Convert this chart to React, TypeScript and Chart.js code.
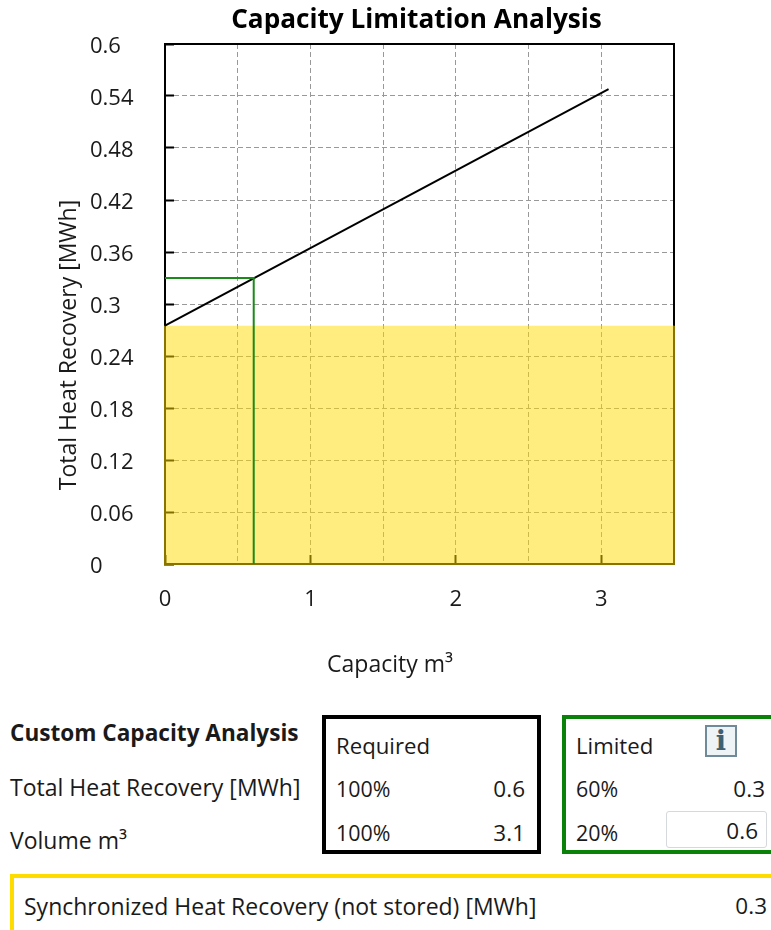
import React, { useEffect, useRef } from "react";
import { Chart, registerables } from "chart.js";

Chart.register(...registerables);

const FONT = '"Open Sans", "Noto Sans", sans-serif';

const curveX = [0, 3.05];
const curveY = [0.275, 0.548];
const limitX = [0, 0.61, 0.61];
const limitY = [0.33, 0.33, 0];
const bandX = [0, 3.5];
const bandY = [0.275, 0.275];
const bandEdgeX = [0, 0, 3.5, 3.5];
const bandEdgeY = [0.275, 0, 0, 0.275];
const xMax = 3.5;
const xStep = 0.5;
const yMax = 0.6;
const yStep = 0.06;

const pts = (xs: number[], ys: number[]) => xs.map((x, i) => ({ x, y: ys[i] }));

const label = (x: number, cy: number, text: React.ReactNode, o: any = {}) => (
  <div
    style={{
      position: "absolute",
      top: cy - 20,
      height: 40,
      lineHeight: "40px",
      whiteSpace: "nowrap",
      fontSize: o.size || 23,
      color: "#1a1a1a",
      ...(o.right ? { right: 771 - x } : { left: x }),
      fontWeight: o.bold ? 700 : 400,
    }}
  >
    {text}
  </div>
);

const nudgeTitle = {
  id: "nudgeTitle",
  afterLayout(chart: any) {
    chart.titleBlock.left -= 3;
    chart.titleBlock.right -= 3;
  },
};

export default function App() {
  const ref = useRef<HTMLCanvasElement>(null);
  useEffect(() => {
    const chart = new Chart(ref.current!, {
      type: "scatter",
      plugins: [nudgeTitle],
      data: {
        datasets: [
          { label: "Limited", data: pts(limitX, limitY), showLine: true, borderColor: "#1a8a1a", borderWidth: 2, pointRadius: 0, order: 1 },
          { label: "Required", data: pts(curveX, curveY), showLine: true, borderColor: "#000", borderWidth: 2, pointRadius: 0, order: 2 },
          { label: "Edge", data: pts(bandEdgeX, bandEdgeY), showLine: true, borderColor: "#8a7400", borderWidth: 2, pointRadius: 0, clip: false, order: 3 },
          { label: "Synchronized", data: pts(bandX, bandY), showLine: true, borderWidth: 0, borderColor: "transparent", backgroundColor: "rgba(255,220,0,0.5)", fill: "origin", pointRadius: 0, order: 4 },
        ],
      },
      options: {
        responsive: false,
        animation: false,
        plugins: {
          legend: { display: false },
          tooltip: { enabled: false },
          title: {
            display: true,
            text: "Capacity Limitation Analysis",
            fullSize: false,
            color: "#000",
            font: { family: FONT, size: 26.2, weight: "bold", lineHeight: 1.25 },
            padding: { top: 4, bottom: 7.25 },
          },
        },
        scales: {
          x: {
            type: "linear",
            min: 0,
            max: xMax,
            position: "bottom",
            afterFit: (s: any) => { s.height = 88; },
            border: { color: "#000", width: 2, dash: [5, 3] },
            grid: {
              color: "#999",
              lineWidth: 1,
              tickLength: -9,
              tickWidth: 2,
              tickColor: (c: any) => (Number.isInteger(c.tick?.value) ? "#000" : "transparent"),
            },
            ticks: {
              stepSize: xStep,
              autoSkip: false,
              maxRotation: 0,
              padding: 32,
              color: "#1a1a1a",
              font: { family: FONT, size: 22 },
              callback: (v: any) => (Number.isInteger(v) ? String(v) : ""),
            },
          },
          y: {
            type: "linear",
            min: 0,
            max: yMax,
            position: "left",
            afterFit: (s: any) => { s.width = 75; },
            border: { color: "#000", width: 2, dash: [5, 3] },
            grid: { color: "#999", lineWidth: 1, tickLength: -9, tickWidth: 2, tickColor: "#000" },
            ticks: {
              stepSize: yStep,
              autoSkip: false,
              crossAlign: "far",
              labelOffset: 3,
              color: "#1a1a1a",
              font: { family: FONT, size: 22 },
              callback: (v: any) => String(Math.round(v * 100) / 100),
            },
          },
          xTitle: {
            type: "linear",
            position: "bottom",
            fullSize: true,
            weight: 5,
            afterFit: (s: any) => { s.height = 38; },
            grid: { display: false },
            border: { display: false },
            ticks: { display: false },
            title: { display: true, text: "Capacity m³", color: "#1a1a1a", font: { family: FONT, size: 23 }, padding: { top: 0, bottom: 11 } },
          },
          yTitle: {
            type: "linear",
            position: "left",
            fullSize: true,
            weight: 5,
            afterFit: (s: any) => { s.width = 90; },
            grid: { display: false },
            border: { display: false },
            ticks: { display: false },
            title: { display: true, text: "Total Heat Recovery [MWh]", color: "#1a1a1a", font: { family: FONT, size: 23 }, padding: { top: 56, bottom: 0 } },
          },
          xTop: {
            type: "linear",
            position: "top",
            afterFit: (s: any) => { s.height = 0; },
            grid: { display: false },
            border: { color: "#000", width: 2 },
            ticks: { display: false },
          },
          yRight: {
            type: "linear",
            position: "right",
            afterFit: (s: any) => { s.width = 106; },
            grid: { display: false },
            border: { color: "#000", width: 2 },
            ticks: { display: false },
          },
        },
      } as any,
    });
    return () => chart.destroy();
  }, []);

  return (
    <div style={{ position: "absolute", left: 0, top: 0, width: 771, height: 930, overflow: "hidden", background: "#fff", fontFamily: FONT }}>
      <canvas ref={ref} width={780} height={690} style={{ position: "absolute", left: 0, top: 0, display: "block" }} />

      <div style={{ position: "absolute", left: 322, top: 715, width: 219, height: 139, border: "4px solid #000", boxSizing: "border-box" }} />
      <div style={{ position: "absolute", left: 562, top: 715, width: 240, height: 139, border: "4px solid #0a820a", boxSizing: "border-box" }} />
      <div style={{ position: "absolute", left: 10, top: 874, width: 800, height: 70, borderTop: "4px solid #ffdc00", borderLeft: "4px solid #ffdc00", boxSizing: "border-box" }} />
      <div style={{ position: "absolute", left: 666, top: 811, width: 101, height: 37, border: "1px solid #d5d8dc", borderRadius: 3, boxSizing: "border-box", background: "#fff" }} />
      <div style={{ position: "absolute", left: 705, top: 725, width: 32, height: 32, border: "2px solid #6f8b99", boxSizing: "border-box", background: "#eef3f5", color: "#3e6172", fontFamily: '"DejaVu Serif", serif', fontWeight: 700, fontSize: 27, lineHeight: "28px", textAlign: "center" }}>i</div>

      {label(10, 733, "Custom Capacity Analysis", { bold: true, size: 22.6 })}
      {label(10, 787, "Total Heat Recovery [MWh]")}
      {label(10, 840, "Volume m³")}
      {label(336, 746, "Required", { size: 22.2 })}
      {label(336, 789, "100%", { size: 21.4 })}
      {label(525, 789, "0.6", { right: true, size: 22.5 })}
      {label(336, 833, "100%", { size: 21.4 })}
      {label(525, 833, "3.1", { right: true, size: 22.5 })}
      {label(576, 746, "Limited", { size: 22.2 })}
      {label(576, 789, "60%", { size: 21.4 })}
      {label(765, 789, "0.3", { right: true, size: 22.5 })}
      {label(576, 833, "20%", { size: 21.4 })}
      {label(758, 831, "0.6", { right: true, size: 22.5 })}
      {label(24, 906, "Synchronized Heat Recovery (not stored) [MWh]")}
      {label(767, 906, "0.3", { right: true, size: 22.5 })}
    </div>
  );
}
